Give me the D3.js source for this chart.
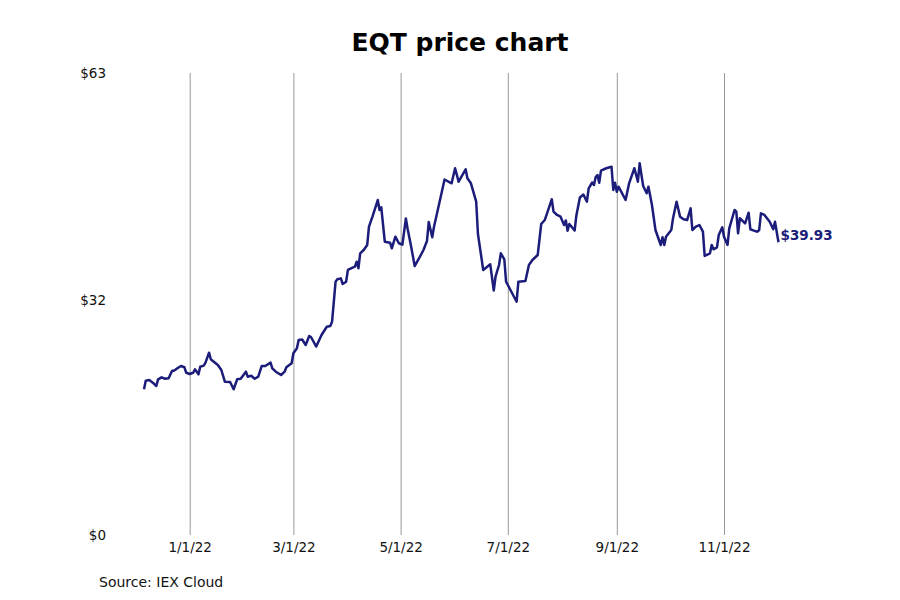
<!DOCTYPE html>
<html>
<head>
<meta charset="utf-8">
<script src="https://cdn.jsdelivr.net/npm/d3@7"></script>
<style>
  body { margin: 0; background: #fff; }
  text { font-family: "DejaVu Sans", sans-serif; }
</style>
</head>
<body>
<div id="chart"></div>
<script>
const WIDTH = 900;
const HEIGHT = 600;
const MARGIN = {
  top: 73,
  bottom: 65,
  right: 121.5,
  left: 144,
};

// trading dates (roughly every couple of days)
const dates = [
  '2021-12-06', '2021-12-07', '2021-12-09', '2021-12-11', '2021-12-13', '2021-12-14', '2021-12-16', '2021-12-18',
  '2021-12-20', '2021-12-22', '2021-12-23', '2021-12-25', '2021-12-27', '2021-12-29', '2021-12-30', '2022-01-01',
  '2022-01-03', '2022-01-04', '2022-01-06', '2022-01-07', '2022-01-09', '2022-01-10', '2022-01-12', '2022-01-13',
  '2022-01-14', '2022-01-17', '2022-01-19', '2022-01-21', '2022-01-24', '2022-01-26', '2022-01-28', '2022-01-30',
  '2022-02-02', '2022-02-03', '2022-02-05', '2022-02-07', '2022-02-09', '2022-02-11', '2022-02-13', '2022-02-16',
  '2022-02-17', '2022-02-19', '2022-02-22', '2022-02-24', '2022-02-25', '2022-02-28', '2022-03-01', '2022-03-03',
  '2022-03-04', '2022-03-06', '2022-03-08', '2022-03-10', '2022-03-11', '2022-03-14', '2022-03-17', '2022-03-20',
  '2022-03-22', '2022-03-23', '2022-03-25', '2022-03-26', '2022-03-28', '2022-03-29', '2022-03-31', '2022-04-01',
  '2022-04-04', '2022-04-05', '2022-04-06', '2022-04-07', '2022-04-08', '2022-04-10', '2022-04-12', '2022-04-13',
  '2022-04-15', '2022-04-18', '2022-04-19', '2022-04-20', '2022-04-22', '2022-04-25', '2022-04-26', '2022-04-28',
  '2022-04-30', '2022-05-02', '2022-05-04', '2022-05-05', '2022-05-07', '2022-05-09', '2022-05-12', '2022-05-14',
  '2022-05-16', '2022-05-17', '2022-05-19', '2022-05-20', '2022-05-23', '2022-05-26', '2022-05-30', '2022-06-01',
  '2022-06-03', '2022-06-07', '2022-06-08', '2022-06-10', '2022-06-13', '2022-06-14', '2022-06-17', '2022-06-21',
  '2022-06-23', '2022-06-24', '2022-06-26', '2022-06-27', '2022-06-29', '2022-06-30', '2022-07-01', '2022-07-06',
  '2022-07-07', '2022-07-11', '2022-07-13', '2022-07-15', '2022-07-18', '2022-07-20', '2022-07-22', '2022-07-26',
  '2022-07-27', '2022-07-29', '2022-07-31', '2022-08-02', '2022-08-03', '2022-08-04', '2022-08-05', '2022-08-08',
  '2022-08-09', '2022-08-11', '2022-08-13', '2022-08-15', '2022-08-16', '2022-08-18', '2022-08-19', '2022-08-20',
  '2022-08-21', '2022-08-22', '2022-08-23', '2022-08-26', '2022-08-29', '2022-08-30', '2022-08-31', '2022-09-01',
  '2022-09-02', '2022-09-06', '2022-09-08', '2022-09-11', '2022-09-13', '2022-09-14', '2022-09-16', '2022-09-18',
  '2022-09-19', '2022-09-21', '2022-09-23', '2022-09-26', '2022-09-27', '2022-09-28', '2022-09-29', '2022-10-02',
  '2022-10-03', '2022-10-05', '2022-10-07', '2022-10-09', '2022-10-11', '2022-10-13', '2022-10-14', '2022-10-16',
  '2022-10-18', '2022-10-20', '2022-10-21', '2022-10-24', '2022-10-25', '2022-10-26', '2022-10-28', '2022-10-29',
  '2022-10-31', '2022-11-01', '2022-11-03', '2022-11-04', '2022-11-07', '2022-11-08', '2022-11-09', '2022-11-10',
  '2022-11-13', '2022-11-15', '2022-11-16', '2022-11-18', '2022-11-20', '2022-11-21', '2022-11-22', '2022-11-24',
  '2022-11-27', '2022-11-29', '2022-11-30', '2022-12-02',
];

const prices = [
  19.87, 21.04, 21.14, 20.77, 20.32, 21.23, 21.50, 21.31,
  21.37, 22.40, 22.40, 22.73, 23.05, 22.87, 22.13, 21.95,
  22.13, 22.60, 21.91, 22.95, 23.09, 23.50, 24.86, 23.96,
  23.77, 23.18, 22.50, 20.90, 20.86, 19.87, 21.23, 21.31,
  22.27, 21.59, 21.72, 21.31, 21.59, 23.05, 23.05, 23.50,
  22.73, 22.27, 21.82, 22.27, 22.87, 23.41, 24.78, 25.46,
  26.59, 26.66, 25.91, 27.14, 27.00, 25.70, 27.27, 28.40,
  28.50, 29.09, 34.54, 34.87, 35.00, 34.23, 34.54, 36.14,
  36.50, 36.59, 37.27, 36.37, 38.41, 38.86, 39.55, 42.04,
  43.41, 45.68, 44.32, 44.69, 40.00, 39.86, 39.10, 40.68,
  39.78, 39.59, 43.16, 41.73, 39.31, 36.68, 37.95, 38.86,
  40.09, 42.68, 40.60, 42.04, 45.23, 48.48, 47.96, 50.01,
  48.18, 49.87, 48.64, 47.96, 45.45, 41.05, 36.14, 36.91,
  33.34, 35.22, 36.82, 38.41, 37.60, 34.54, 34.09, 31.81,
  34.54, 34.64, 36.82, 37.50, 38.18, 42.41, 42.95, 45.78,
  44.09, 43.64, 43.41, 42.27, 42.89, 41.50, 42.41, 41.52,
  43.57, 46.02, 46.43, 45.45, 47.28, 48.07, 47.73, 48.82,
  49.09, 48.04, 49.68, 50.01, 50.22, 47.05, 48.04, 46.81,
  47.50, 45.68, 47.96, 50.01, 48.18, 50.69, 47.59, 46.60,
  47.50, 45.00, 41.59, 39.55, 40.60, 39.55, 40.68, 41.59,
  43.19, 45.45, 43.41, 43.05, 42.95, 44.55, 41.59, 42.04,
  42.27, 41.36, 38.05, 38.41, 39.55, 38.96, 39.23, 40.91,
  41.96, 40.68, 39.55, 41.82, 44.32, 44.09, 41.14, 43.19,
  42.50, 43.95, 41.69, 41.50, 41.36, 41.59, 43.87, 43.64,
  42.72, 41.69, 42.72, 39.93,
];

const xTickDates = ['2022-01-01', '2022-03-01', '2022-05-01', '2022-07-01', '2022-09-01', '2022-11-01'];
const yTickValues = [0, 32, 63];

const parseDate = d3.timeParse('%Y-%m-%d');
const formatDate = d3.timeFormat('%-m/%-d/%y');

const svg = d3.select('#chart')
  .append('svg')
  .attr('width', WIDTH)
  .attr('height', HEIGHT)

function drawChart(data) {
  const x = d3.scaleTime()
    .domain(d3.extent(data, d => d.date))
    .range([MARGIN.left, WIDTH - MARGIN.right])

  const y = d3.scaleLinear()
    .domain([0, 63])
    .range([HEIGHT - MARGIN.bottom, MARGIN.top])

  // vertical grid + date labels
  const xAxis = svg.append('g')
    .attr('transform', `translate(0, ${HEIGHT - MARGIN.bottom})`)
    .call(d3.axisBottom(x)
      .tickValues(xTickDates.map(parseDate))
      .tickFormat(formatDate)
      .tickSize(-(HEIGHT - MARGIN.top - MARGIN.bottom))
      .tickPadding(7))

  xAxis.select('.domain').remove()
  xAxis.selectAll('line').attr('stroke', '#999')
  xAxis.selectAll('text')
    .attr('fill', '#111')
    .style('font-size', '13.5px')
    .style('font-family', 'DejaVu Sans')

  const yAxis = svg.append('g')
    .attr('transform', `translate(107, 0)`)
    .call(d3.axisLeft(y)
      .tickValues(yTickValues)
      .tickFormat(d => '$' + d)
      .tickSize(0)
      .tickPadding(1))

  yAxis.select('.domain').remove()
  yAxis.selectAll('text')
    .attr('fill', '#111')
    .style('font-size', '13.5px')
    .style('font-family', 'DejaVu Sans')

  const line = d3.line()
    .x(d => x(d.date))
    .y(d => y(d.price))

  svg.append('path')
    .datum(data)
    .attr('fill', 'none')
    .attr('stroke', '#1c1c7a')
    .attr('stroke-width', 2.5)
    .attr('stroke-linejoin', 'round')
    .attr('d', line)

  const last = data[data.length - 1]
  svg.append('text')
    .attr('x', x(last.date) + 2)
    .attr('y', y(last.price) - 2)
    .attr('fill', '#1c1c7a')
    .style('font-size', '13.5px')
    .style('font-weight', 'bold')
    .text('$' + last.price.toFixed(2))

  svg.append('text')
    .attr('x', 460)
    .attr('y', 51)
    .attr('text-anchor', 'middle')
    .style('font-size', '25px')
    .style('font-weight', 'bold')
    .text('EQT price chart')

  svg.append('text')
    .attr('x', 99)
    .attr('y', 587)
    .style('font-size', '14px')
    .attr('fill', '#111')
    .text('Source: IEX Cloud')
}

function main() {
  const data = dates.map((d, i) => ({ date: parseDate(d), price: prices[i] }))
  drawChart(data)
}

main()
</script>
</body>
</html>
